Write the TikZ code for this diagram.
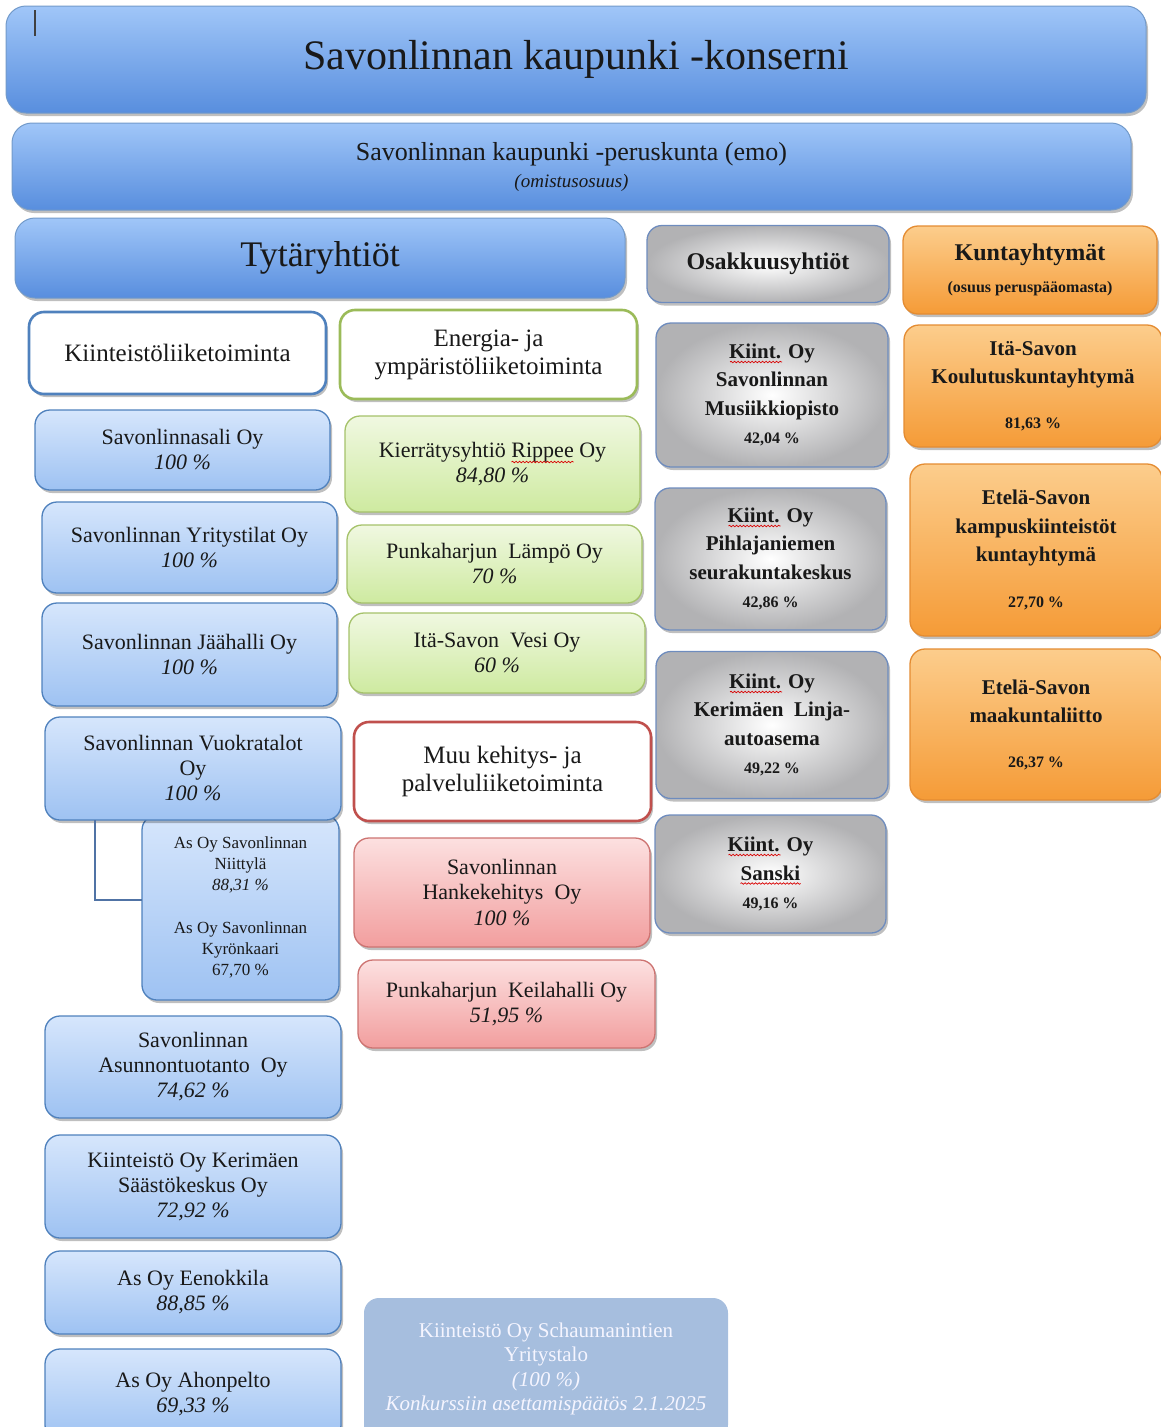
\documentclass[tikz,border=0pt]{standalone}
\usepackage{fontspec}
\setmainfont{Liberation Serif}
\usetikzlibrary{shadows,decorations.pathmorphing}
\newcommand\setfs[2]{\fontsize{#1}{#2}\selectfont}
\definecolor{bluetop}{RGB}{160,198,248}
\definecolor{bluebot}{RGB}{88,142,222}
\definecolor{bluebd}{RGB}{79,129,189}
\definecolor{ltop}{RGB}{214,230,252}
\definecolor{lbot}{RGB}{158,194,242}
\definecolor{gtop}{RGB}{240,248,225}
\definecolor{gbot}{RGB}{206,234,160}
\definecolor{gbd}{RGB}{155,187,89}
\definecolor{rtop}{RGB}{252,224,224}
\definecolor{rbot}{RGB}{242,158,158}
\definecolor{rbd}{RGB}{192,80,77}
\definecolor{otop}{RGB}{252,205,140}
\definecolor{obot}{RGB}{245,155,55}
\definecolor{obd}{RGB}{228,140,50}
\definecolor{graybd}{RGB}{110,140,190}
\definecolor{grayout}{RGB}{178,178,180}
\definecolor{fade}{RGB}{166,190,222}
\definecolor{conncol}{RGB}{80,115,165}
\tikzset{
  sz/.style 2 args={minimum width=#1pt, minimum height=#2pt},
  base/.style={rounded corners=15pt, align=center, inner sep=0pt, outer sep=0pt,
    text=black!90, drop shadow={shadow xshift=2pt, shadow yshift=-3pt, opacity=0.25, fill=black}},
  bigblue/.style={base, rounded corners=20pt, draw=bluebd!80, line width=1pt, top color=bluetop, bottom color=bluebot},
  itemblue/.style={base, draw=bluebd, line width=1.3pt, top color=ltop, bottom color=lbot, font=\setfs{22}{25}},
  itemgreen/.style={base, draw=gbd!90, line width=1.3pt, top color=gtop, bottom color=gbot, font=\setfs{22}{25}},
  itemred/.style={base, draw=rbd!80, line width=1.3pt, top color=rtop, bottom color=rbot, font=\setfs{22}{25.5}},
  itemgray/.style={base, draw=graybd, line width=1.3pt, inner color=white, outer color=grayout, font=\bfseries\setfs{21}{28.5}},
  itemorange/.style={base, draw=obd, line width=1.3pt, top color=otop, bottom color=obot, font=\bfseries\setfs{21}{28.5}},
  catbox/.style={base, fill=white, line width=2.6pt, font=\setfs{25}{28}},
  fadebox/.style={rounded corners=15pt, align=center, inner sep=0pt, fill=fade, text=white!96!blue, font=\setfs{21}{24.5}},
  conn/.style={draw=conncol, line width=1.3pt},
  wave/.style={draw=red!85!black, line width=0.7pt, decorate, decoration={snake, amplitude=0.8pt, segment length=3.5pt}},
}
\begin{document}
\begin{tikzpicture}[x=1pt,y=-1pt]
\useasboundingbox (0,0) rectangle (1160,1427);
% top level
\node[bigblue, sz={1140}{107}, font=\setfs{42}{46}] (title) at (576,59.5) {Savonlinnan kaupunki -konserni};
\coordinate (cur) at (35,10);
\draw[line width=1.4pt, black!75] (cur) -- ++(0,26);
\node[bigblue, sz={1119}{87}, font=\setfs{26}{27}] (emo) at (571.5,166.5) {Savonlinnan kaupunki -peruskunta (emo)\\{\itshape\setfs{19}{20}(omistusosuus)}};
\node[bigblue, sz={610}{80}, font=\setfs{36}{40}] (tyt) at (320,258) {Tytäryhtiöt};
\node[base, draw=graybd, line width=1.3pt, inner color=white, outer color=grayout, sz={242}{77}, font=\bfseries\setfs{24}{28}] (osak) at (768,264) {Osakkuusyhtiöt};
\node[itemorange, sz={254}{88}, font=\bfseries\setfs{24}{32}] (kunta) at (1030,270) {Kuntayhtymät\\{\setfs{16}{18}(osuus peruspääomasta)}};
% category boxes
\node[catbox, draw=bluebd, sz={297}{82}] (kiint) at (177.5,353) {Kiinteistöliiketoiminta};
\node[catbox, draw=gbd, sz={297}{89}] (energia) at (488.5,354.5) {Energia- ja\\ympäristöliiketoiminta};
\node[catbox, draw=rbd, sz={297}{99}] (muu) at (502.5,771.5) {Muu kehitys- ja\\palveluliiketoiminta};
% blue items
\node[itemblue, sz={295}{80}] (b1) at (182.5,450) {Savonlinnasali Oy\\\textit{100 \%}};
\node[itemblue, sz={295}{91}] (b2) at (189.5,547.5) {Savonlinnan Yritystilat Oy\\\textit{100 \%}};
\node[itemblue, sz={295}{103}] (b3) at (189.5,654.5) {Savonlinnan Jäähalli Oy\\\textit{100 \%}};
\node[itemblue, sz={197}{185}, font=\setfs{17}{21}] (sub) at (240.5,907.5) {As Oy Savonlinnan\\Niittylä\\\textit{88,31 \%}\\[22pt]As Oy Savonlinnan\\Kyrönkaari\\67,70 \%};
\node[itemblue, sz={296}{103}] (b4) at (193,768.5) {Savonlinnan Vuokratalot\\Oy\\\textit{100 \%}};
\coordinate (c1) at (95,900);
\draw[conn] (b4.south -| c1) -- (c1) -- (c1 -| sub.west);
\node[itemblue, sz={296}{102}] (b5) at (193,1067) {Savonlinnan\\Asunnontuotanto\ \ Oy\\\textit{74,62 \%}};
\node[itemblue, sz={296}{103}] (b6) at (193,1186.5) {Kiinteistö Oy Kerimäen\\Säästökeskus Oy\\\textit{72,92 \%}};
\node[itemblue, sz={296}{83}] (b7) at (193,1292.5) {As Oy Eenokkila\\\textit{88,85 \%}};
\node[itemblue, sz={296}{91}] (b8) at (193,1394.5) {As Oy Ahonpelto\\\textit{69,33 \%}};
% green items
\node[itemgreen, sz={295}{96}] (g1) at (492.5,464) {Kierrätysyhtiö Rippee Oy\\\textit{84,80 \%}};
\draw[wave] ([shift={(19,-2)}]g1.center) -- ++(62,0);
\node[itemgreen, sz={295}{78}] (g2) at (494.5,564) {Punkaharjun\ \ Lämpö Oy\\\textit{70 \%}};
\node[itemgreen, sz={296}{80}] (g3) at (497,653) {Itä-Savon\ \ Vesi Oy\\\textit{60 \%}};
% red items
\node[itemred, sz={296}{109}] (r1) at (502,892.5) {Savonlinnan\\Hankekehitys\ \ Oy\\\textit{100 \%}};
\node[itemred, sz={297}{88}] (r2) at (506.5,1004) {Punkaharjun\ \ Keilahalli Oy\\\textit{51,95 \%}};
% gray items
\node[itemgray, sz={232}{144}] (k1) at (772,395) {Kiint. Oy\\Savonlinnan\\Musiikkiopisto\\{\setfs{16}{18}42,04 \%}};
\draw[wave] ([shift={(-42,-33)}]k1.center) -- ++(52,0);
\node[itemgray, sz={231}{142}] (k2) at (770.5,559) {Kiint. Oy\\Pihlajaniemen\\seurakuntakeskus\\{\setfs{16}{18}42,86 \%}};
\draw[wave] ([shift={(-42,-33)}]k2.center) -- ++(52,0);
\node[itemgray, sz={232}{147}] (k3) at (772,725) {Kiint. Oy\\Kerimäen\ \ Linja-\\autoasema\\{\setfs{16}{18}49,22 \%}};
\draw[wave] ([shift={(-42,-33)}]k3.center) -- ++(52,0);
\node[itemgray, sz={231}{118}] (k4) at (770.5,874) {Kiint. Oy\\Sanski\\{\setfs{16}{18}49,16 \%}};
\draw[wave] ([shift={(-42,-19)}]k4.center) -- ++(52,0);
\draw[wave] ([shift={(-30,9.5)}]k4.center) -- ++(60,0);
% orange items
\node[itemorange, sz={258}{122}] (o1) at (1033,386) {Itä-Savon\\Koulutuskuntayhtymä\\[16pt]{\setfs{16}{18}81,63 \%}};
\node[itemorange, sz={252}{172}] (o2) at (1036,550) {Etelä-Savon\\kampuskiinteistöt\\kuntayhtymä\\[17pt]{\setfs{16}{18}27,70 \%}};
\node[itemorange, sz={252}{151}] (o3) at (1036,724.5) {Etelä-Savon\\maakuntaliitto\\[16pt]{\setfs{16}{18}26,37 \%}};
% faded
\node[fadebox, sz={364}{142}] (fade) at (546,1369) {Kiinteistö Oy Schaumanintien\\Yritystalo\\\textit{(100 \%)}\\\textit{Konkurssiin asettamispäätös 2.1.2025}};
\end{tikzpicture}
\end{document}
